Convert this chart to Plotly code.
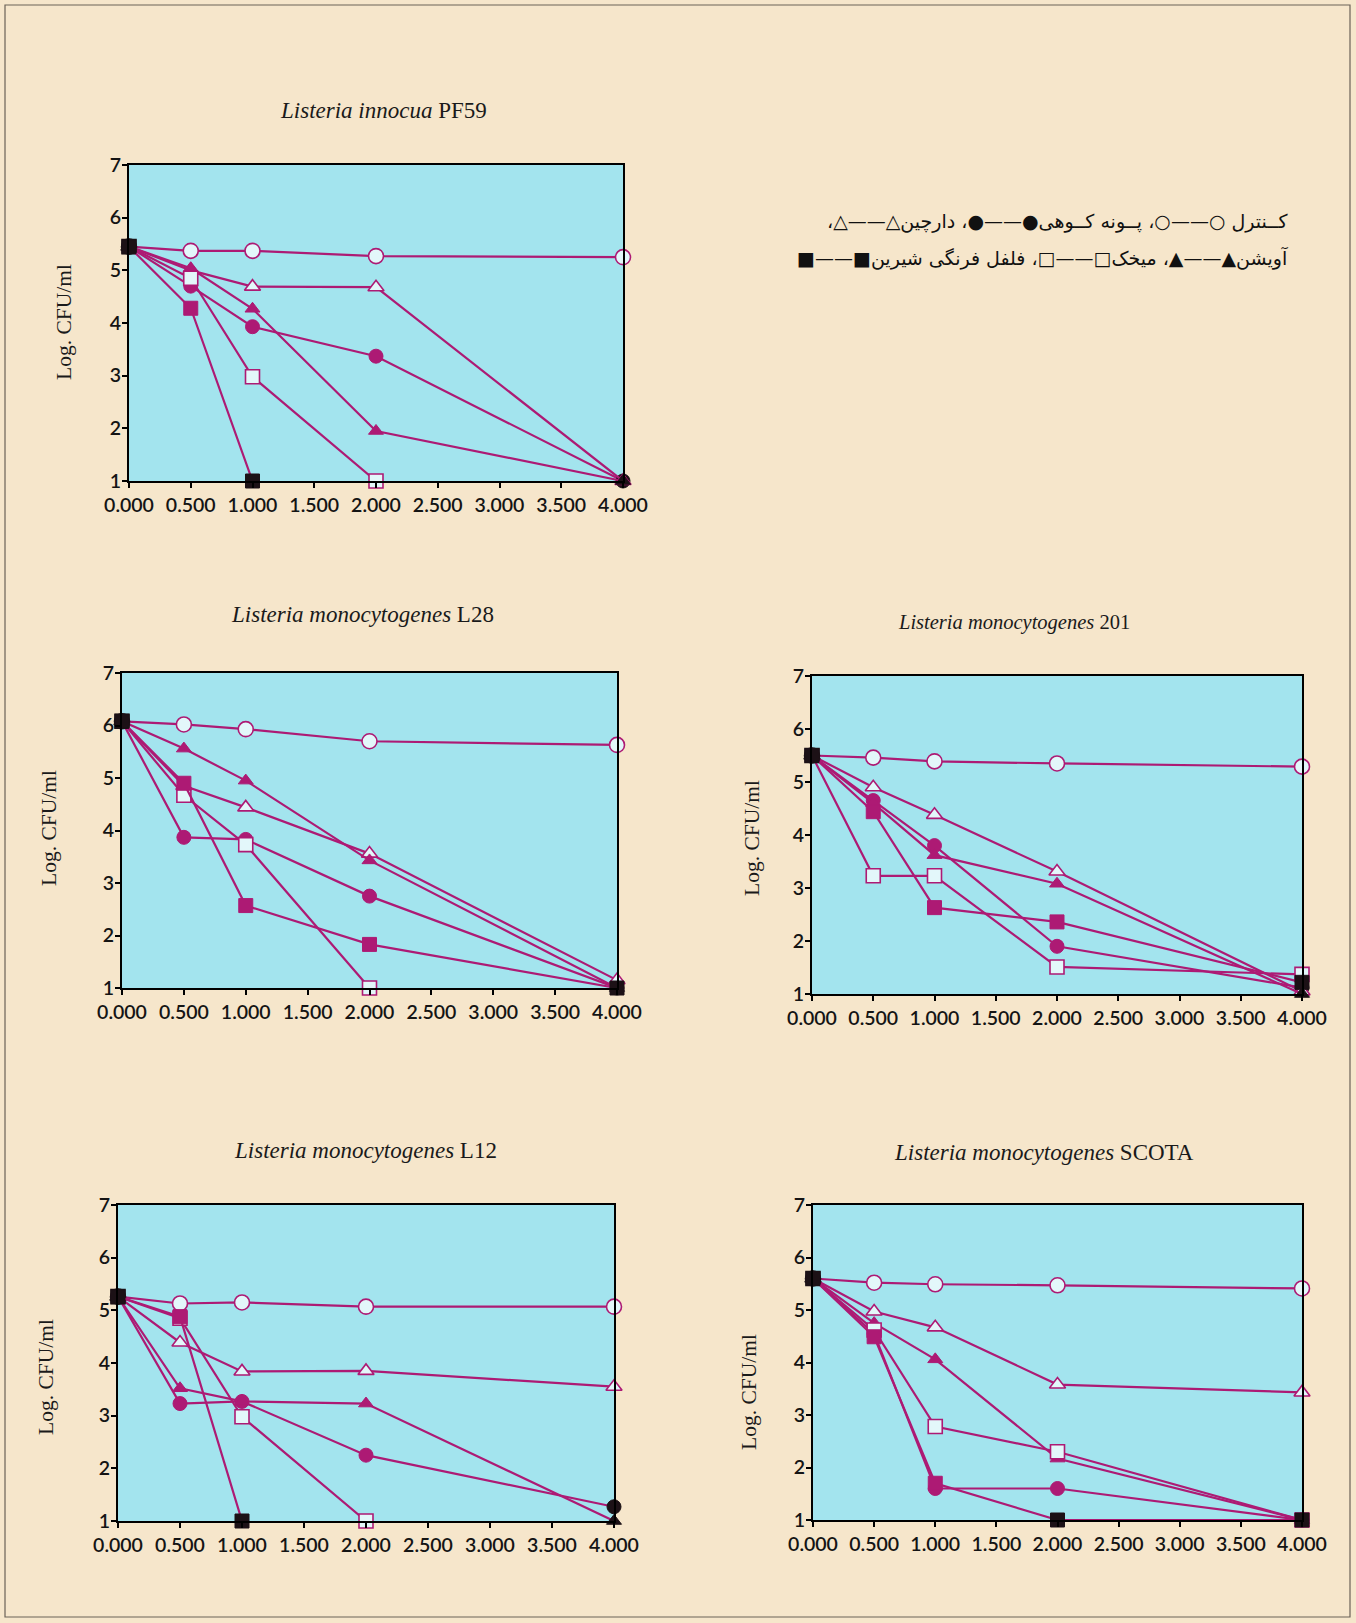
import plotly.graph_objects as go

# ---------------- data ----------------
hours = [0, 0.5, 1, 2, 4]
x_tick_vals = [0, 0.5, 1, 1.5, 2, 2.5, 3, 3.5, 4]
x_tick_labels = ["0.000", "0.500", "1.000", "1.500", "2.000", "2.500", "3.000", "3.500", "4.000"]
y_tick_vals = [1, 2, 3, 4, 5, 6, 7]
y_tick_labels = ["1", "2", "3", "4", "5", "6", "7"]

series_names = ["کنترل", "پونه کوهی", "دارچین", "آویشن", "میخک", "فلفل فرنگی شیرین"]

panel_titles = [
    "<i>Listeria innocua</i> PF59",
    "<i>Listeria monocytogenes</i> L28",
    "<i>Listeria monocytogenes</i> 201",
    "<i>Listeria monocytogenes</i> L12",
    "<i>Listeria monocytogenes</i> SCOTA",
]

# PF59
pf59_control = [5.45, 5.37, 5.37, 5.27, 5.25]
pf59_mint = [5.45, 4.70, 3.93, 3.37, 1.0]
pf59_cinnamon = [5.45, 5.00, 4.69, 4.68, 1.0]
pf59_thyme = [5.45, 5.04, 4.27, 1.95, 1.0]
pf59_clove = [5.45, 4.85, 2.98, 1.0, None]
pf59_paprika = [5.45, 4.28, 1.0, None, None]

# L28
l28_control = [6.08, 6.02, 5.93, 5.70, 5.63]
l28_mint = [6.08, 3.87, 3.83, 2.75, 1.0]
l28_cinnamon = [6.08, 4.85, 4.44, 3.56, 1.15]
l28_thyme = [6.08, 5.56, 4.95, 3.43, 1.0]
l28_clove = [6.08, 4.67, 3.73, 1.0, None]
l28_paprika = [6.08, 4.90, 2.57, 1.83, 1.0]

# 201
s201_control = [5.50, 5.46, 5.39, 5.35, 5.29]
s201_mint = [5.50, 4.65, 3.80, 1.90, 1.12]
s201_cinnamon = [5.50, 4.90, 4.38, 3.31, 1.05]
s201_thyme = [5.50, 4.60, 3.62, 3.08, 1.0]
s201_clove = [5.50, 3.23, 3.23, 1.51, 1.37]
s201_paprika = [5.50, 4.44, 2.63, 2.36, 1.22]

# L12
l12_control = [5.26, 5.13, 5.15, 5.07, 5.07]
l12_mint = [5.26, 3.23, 3.27, 2.25, 1.27]
l12_cinnamon = [5.26, 4.39, 3.84, 3.85, 3.55]
l12_thyme = [5.26, 3.52, 3.27, 3.23, 1.0]
l12_clove = [5.26, 4.85, 2.98, 1.0, None]
l12_paprika = [5.26, 4.88, 1.0, None, None]

# SCOTA
scota_control = [5.60, 5.52, 5.49, 5.47, 5.41]
scota_mint = [5.60, 4.55, 1.60, 1.60, 1.0]
scota_cinnamon = [5.60, 4.97, 4.67, 3.58, 3.43]
scota_thyme = [5.60, 4.75, 4.06, 2.17, 1.0]
scota_clove = [5.60, 4.62, 2.78, 2.30, 1.0]
scota_paprika = [5.60, 4.49, 1.70, 1.0, 1.0]

panels_data = [
    [pf59_control, pf59_mint, pf59_cinnamon, pf59_thyme, pf59_clove, pf59_paprika],
    [l28_control, l28_mint, l28_cinnamon, l28_thyme, l28_clove, l28_paprika],
    [s201_control, s201_mint, s201_cinnamon, s201_thyme, s201_clove, s201_paprika],
    [l12_control, l12_mint, l12_cinnamon, l12_thyme, l12_clove, l12_paprika],
    [scota_control, scota_mint, scota_cinnamon, scota_thyme, scota_clove, scota_paprika],
]

legend_line1 = "کــنترل ○——○، پــونه کــوهی●——●، دارچین△——△،"
legend_line2 = "آویشن▲——▲، میخک□——□، فلفل فرنگی شیرین■——■"

# ---------------- style ----------------
W, H = 1356, 1623
PAGE_BG = "#f6e6cb"
PLOT_BG = "#a3e4ee"
MAG = "#ad1a74"
DARK = "#1c1116"
OPEN_FILL = "#e3f7fa"
TICK_FONT = dict(family="Lato, Open Sans, sans-serif", size=19.5, color="#141414", weight=600)

# plot-area boxes in pixels: (left, top, right, bottom)
boxes = [
    (129, 165, 623, 481),
    (122, 673, 617, 988),
    (812, 676, 1302, 994),
    (118, 1205, 614, 1521),
    (813, 1205, 1302, 1520),
]
title_pos = [(383, 110), (362, 614), (1014, 622), (366, 1150), (1044, 1152)]
title_size = [23, 23, 20.5, 23, 23]
ylabel_pos = [(64, 322), (49, 828), (752, 838), (46, 1377), (749, 1392)]

styles = [
    dict(symbol="circle", size=15, filled=False),
    dict(symbol="circle", size=14, filled=True),
    dict(symbol="triangle-up", size=14, filled=False),
    dict(symbol="triangle-up", size=13, filled=True),
    dict(symbol="square", size=14, filled=False),
    dict(symbol="square", size=14, filled=True),
]

fig = go.Figure()
layout = dict()

for p, (data, box) in enumerate(zip(panels_data, boxes)):
    l, t, r, b = box
    xa = "xaxis" if p == 0 else f"xaxis{p+1}"
    ya = "yaxis" if p == 0 else f"yaxis{p+1}"
    xr = "x" if p == 0 else f"x{p+1}"
    yr = "y" if p == 0 else f"y{p+1}"
    layout[xa] = dict(
        domain=[l / W, r / W], anchor=yr, range=[0, 4], automargin=False,
        tickvals=x_tick_vals, ticktext=x_tick_labels,
        showline=True, linecolor="black", linewidth=2.2, mirror=True,
        ticks="outside", ticklen=5, tickwidth=1.5, tickcolor="black",
        showgrid=False, zeroline=False, fixedrange=True,
        tickfont=TICK_FONT,
    )
    layout[ya] = dict(
        domain=[1 - b / H, 1 - t / H], anchor=xr, range=[1, 7], automargin=False,
        tickvals=y_tick_vals, ticktext=y_tick_labels,
        showline=True, linecolor="black", linewidth=2.2, mirror=True,
        ticks="outside", ticklen=5, tickwidth=1.5, tickcolor="black",
        ticklabelstandoff=-3,
        showgrid=False, zeroline=False, fixedrange=True,
        tickfont=TICK_FONT,
    )
    for s, (vals, st, name) in enumerate(zip(data, styles, series_names)):
        xs = [h for h, v in zip(hours, vals) if v is not None]
        ys = [v for v in vals if v is not None]
        if st["filled"]:
            cols = [DARK if (h == 0 or h == 4 or v <= 1.0) else MAG for h, v in zip(xs, ys)]
            marker = dict(symbol=st["symbol"], size=st["size"], color=cols,
                          line=dict(color=cols, width=1))
        else:
            lc = [DARK if h == 0 else MAG for h in xs]
            fc = [DARK if h == 0 else OPEN_FILL for h in xs]
            marker = dict(symbol=st["symbol"], size=st["size"], color=fc,
                          line=dict(color=lc, width=1.6))
        fig.add_trace(go.Scatter(
            x=xs, y=ys, mode="lines+markers", name=name, showlegend=False,
            xaxis=xr, yaxis=yr, cliponaxis=False,
            line=dict(color=MAG, width=2.2),
            marker=marker,
        ))

annotations = []
for (tx, ty), txt, fs in zip(title_pos, panel_titles, title_size):
    annotations.append(dict(
        x=tx / W, y=1 - ty / H, xref="paper", yref="paper", text=txt,
        showarrow=False, xanchor="center", yanchor="middle",
        font=dict(family="Liberation Serif, Times New Roman, serif", size=fs, color="#1a1a1a"),
    ))
for (lx, ly) in ylabel_pos:
    annotations.append(dict(
        x=lx / W, y=1 - ly / H, xref="paper", yref="paper", text="Log. CFU/ml",
        showarrow=False, textangle=-90, xanchor="center", yanchor="middle",
        font=dict(family="Liberation Serif, Times New Roman, serif", size=21.5, color="#1a1a1a"),
    ))
for line_txt, ly in [(legend_line1, 222), (legend_line2, 258)]:
    annotations.append(dict(
        x=1290 / W, y=1 - ly / H, xref="paper", yref="paper",
        text="\u200f" + line_txt + "\u200f",
        showarrow=False, xanchor="right", yanchor="middle",
        font=dict(family="DejaVu Sans, sans-serif", size=19, color="#111111"),
    ))

shapes = [dict(type="rect", xref="paper", yref="paper",
               x0=5 / W, x1=1350 / W, y0=1 - 1617 / H, y1=1 - 5 / H,
               line=dict(color="#6b6258", width=1.2), fillcolor="rgba(0,0,0,0)", layer="below")]
for (l, t, r, b) in boxes:
    shapes.append(dict(type="rect", xref="paper", yref="paper",
                       x0=l / W, x1=r / W, y0=1 - b / H, y1=1 - t / H,
                       line=dict(width=0), fillcolor=PLOT_BG, layer="below"))

fig.update_layout(
    width=W, height=H, autosize=False,
    margin=dict(l=0, r=0, t=0, b=0, pad=0),
    paper_bgcolor=PAGE_BG, plot_bgcolor=PLOT_BG,
    annotations=annotations, shapes=shapes,
    **layout,
)

fig.write_html("out.html", config={"displayModeBar": False},
               post_script="document.body.style.margin='0';document.body.style.overflow='hidden';")
